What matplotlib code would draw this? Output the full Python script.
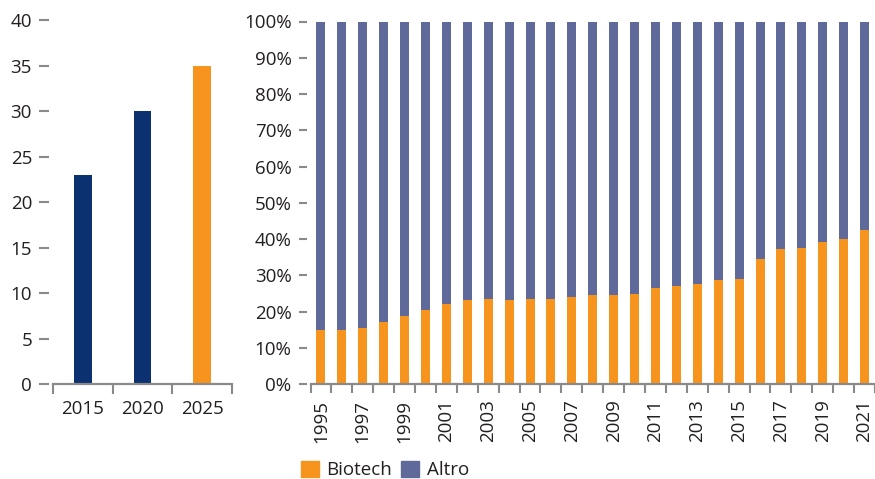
import matplotlib
matplotlib.use("Agg")
import matplotlib.pyplot as plt
from matplotlib.patches import Patch
from matplotlib.ticker import FixedLocator, FuncFormatter
import numpy as np

plt.rcParams['font.family'] = ['Open Sans', 'DejaVu Sans']

# Left chart data
left_cats = ['2015', '2020', '2025']
left_vals = [23, 30, 35]
left_colors = ['#0b3170', '#0b3170', '#f7941d']

# Right chart data
years = list(range(1995, 2022))
biotech = [15.1, 15.1, 15.4, 17.3, 18.7, 20.6, 22.0, 23.3, 23.6, 23.3, 23.6, 23.6,
           24.2, 24.7, 24.7, 24.9, 26.6, 27.1, 27.7, 28.8, 29.0, 34.5, 37.3, 37.5,
           39.2, 40.0, 42.5]
altro = [100 - b for b in biotech]

ORANGE = '#f7941d'
ALTRO = '#5f6a9b'
GRAY = '#8a8a8a'
TXT = '#231f20'
FS = 13.5

W, H = 875, 479
fig = plt.figure(figsize=(W / 100, H / 100), dpi=100)

def frac(x0, x1, ytop, ybot):
    return [x0 / W, (H - ybot) / H, (x1 - x0) / W, (ybot - ytop) / H]

def style(ax, ytick_len_px):
    for s in ['top', 'right']:
        ax.spines[s].set_visible(False)
    ax.spines['left'].set_position(('outward', 4 * 0.72))
    ax.spines['left'].set_visible(False)
    ax.spines['bottom'].set_color(GRAY)
    ax.spines['bottom'].set_linewidth(1.6)
    ax.tick_params(axis='y', length=ytick_len_px * 0.72, width=1.5, color=GRAY,
                   labelsize=FS, labelcolor=TXT, pad=5)

# Left chart
ax1 = fig.add_axes(frac(53, 232, 20, 384.3))
x1 = np.arange(len(left_cats))
ax1.bar(x1, left_vals, width=0.3, color=left_colors)
ax1.set_xlim(-0.5, len(left_cats) - 0.5)
ax1.set_ylim(0, 40)
ax1.set_yticks(range(0, 41, 5))
style(ax1, 10)
ax1.set_xticks(x1)
ax1.set_xticklabels(left_cats)
ax1.tick_params(axis='x', which='major', length=0, labelsize=FS, labelcolor=TXT, pad=11)
ax1.xaxis.set_minor_locator(FixedLocator(np.arange(-0.5, len(left_cats), 1.0)))
ax1.tick_params(axis='x', which='minor', length=10 * 0.72, width=1.5, color=GRAY)

# Right chart
ax2 = fig.add_axes(frac(310.5, 875, 21.5, 384.3))
x2 = np.arange(len(years))
ax2.bar(x2, biotech, width=0.43, color=ORANGE, label='Biotech')
ax2.bar(x2, altro, width=0.43, bottom=biotech, color=ALTRO, label='Altro')
ax2.set_xlim(-0.5, len(years) - 0.5)
ax2.set_ylim(0, 100)
ax2.set_yticks(range(0, 101, 10))
ax2.yaxis.set_major_formatter(FuncFormatter(lambda v, p: f'{int(v)}%'))
style(ax2, 8)
ax2.set_xticks(x2)
ax2.set_xticklabels([str(y) if (y % 2 == 1) else '' for y in years], rotation=90)
ax2.tick_params(axis='x', which='major', length=0, labelsize=FS, labelcolor=TXT, pad=11)
ax2.xaxis.set_minor_locator(FixedLocator(np.arange(-0.5, len(years), 1.0)))
ax2.tick_params(axis='x', which='minor', length=9 * 0.72, width=1.5, color=GRAY)

handles = [Patch(color=ORANGE, label='Biotech'), Patch(color=ALTRO, label='Altro')]
fig.legend(handles=handles, loc='center left', bbox_to_anchor=(301 / W, 1 - 470 / H),
           ncol=2, frameon=False, fontsize=FS, handlelength=0.95, handleheight=0.95,
           handletextpad=0.4, columnspacing=0.5, labelcolor=TXT, borderaxespad=0,
           borderpad=0)

fig.savefig('out.png', dpi=100)
